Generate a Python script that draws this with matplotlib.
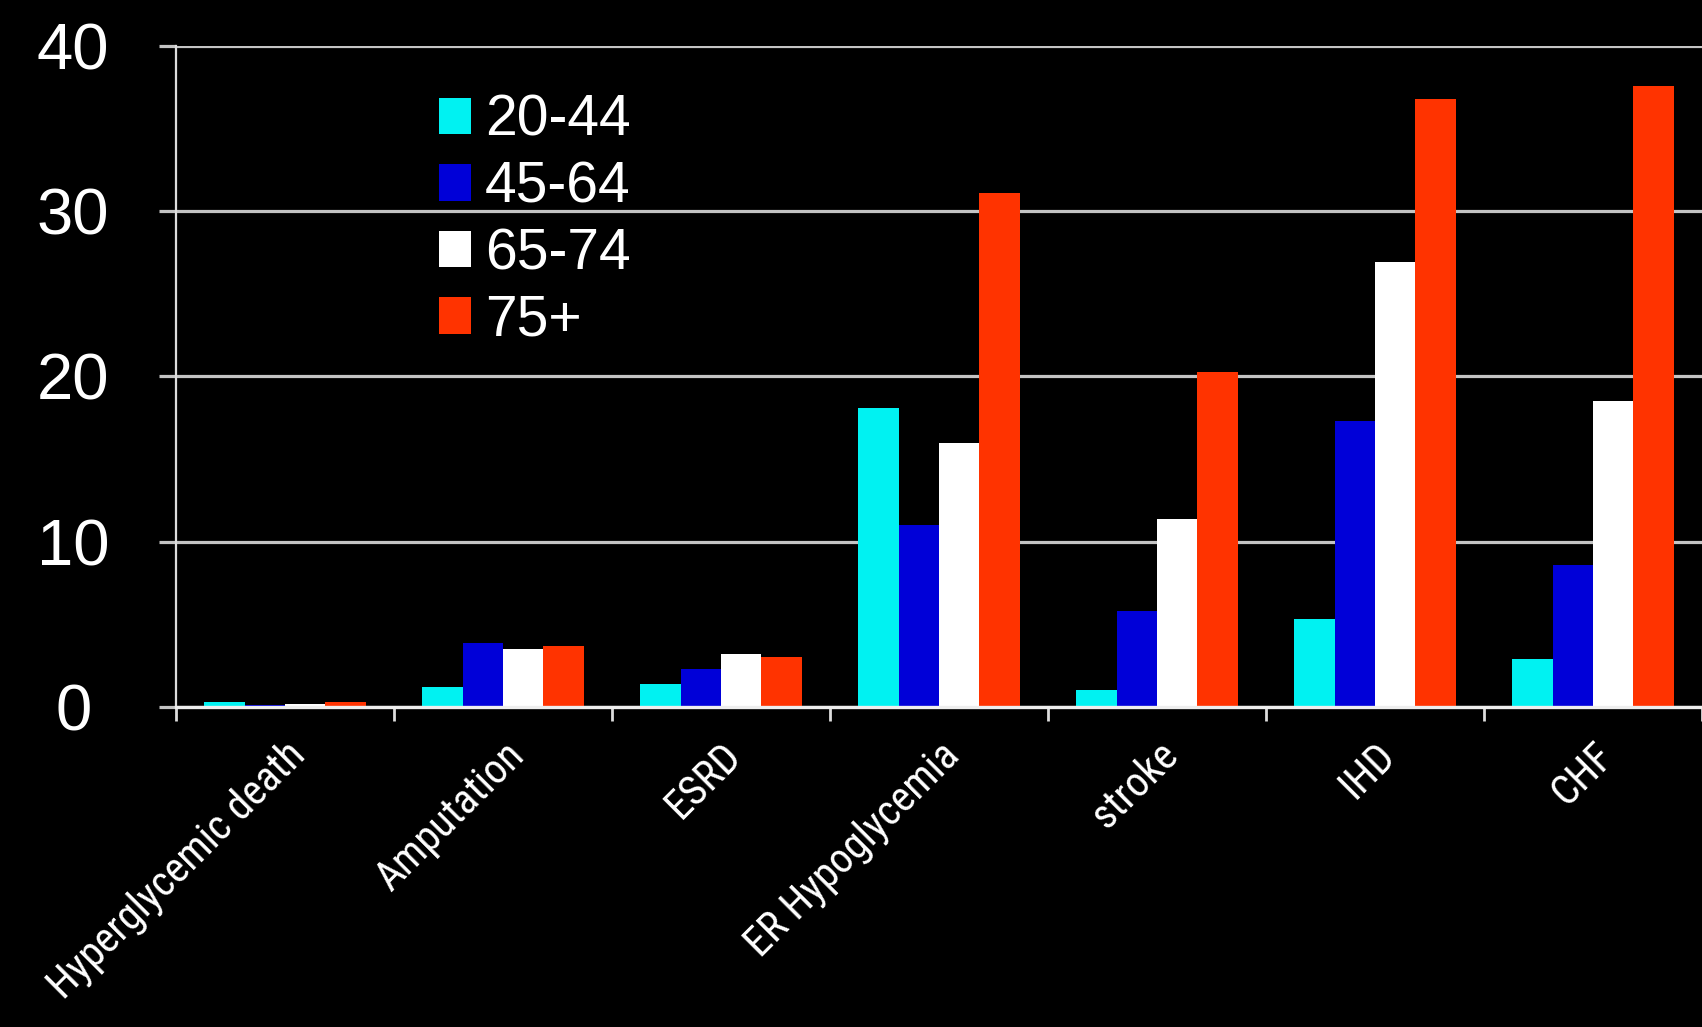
"""
Tasa de complicaciones por grupo de edad (barras agrupadas, fondo negro).
Genera out.png.
"""
import matplotlib
matplotlib.use("Agg")
import matplotlib.pyplot as plt
import numpy as np

# ---------------- datos ----------------
categories = ["Hyperglycemic death", "Amputation", "ESRD", "ER Hypoglycemia",
              "stroke", "IHD", "CHF"]
age_groups = ["20-44", "45-64", "65-74", "75+"]
age_20_44 = [0.3, 1.2, 1.4, 18.1, 1.0, 5.3, 2.9]
age_45_64 = [0.15, 3.9, 2.3, 11.0, 5.8, 17.3, 8.6]
age_65_74 = [0.2, 3.5, 3.2, 16.0, 11.4, 26.9, 18.5]
age_75_up = [0.3, 3.7, 3.0, 31.1, 20.3, 36.8, 37.6]
y_ticks = [0, 10, 20, 30, 40]

colors = ["#00f2f2", "#0000d8", "#ffffff", "#ff3300"]
GRID = "#c4c4c4"
FONT = ["Liberation Sans", "DejaVu Sans"]
NARROW = ["Roboto Condensed", "Liberation Sans", "DejaVu Sans"]


def main() -> None:
    fig = plt.figure(figsize=(17.02, 10.27), dpi=100, facecolor="black")
    ax = fig.add_axes([0.1034, 0.3116, 0.8966, 0.6436], facecolor="black")

    x = np.arange(len(categories))
    width = 0.185
    series = [age_20_44, age_45_64, age_65_74, age_75_up]
    for i, (vals, c, lab) in enumerate(zip(series, colors, age_groups)):
        ax.bar(x + (i - 1.5) * width, vals, width, color=c, label=lab,
               linewidth=0, zorder=3)

    ax.set_xlim(-0.5, len(categories) - 0.5)
    ax.set_ylim(0, 40)

    # rejilla horizontal gris detras de las barras
    ax.set_axisbelow(True)
    ax.yaxis.grid(True, color=GRID, linewidth=2.3)
    ax.set_yticks(y_ticks)
    ax.set_yticklabels([str(v) for v in y_ticks], family=FONT, fontsize=47,
                       color="white")
    for lbl in ax.get_yticklabels():
        lbl.set_horizontalalignment("center")
    ax.tick_params(axis="y", length=12, width=2.3, color=GRID, pad=62)

    # etiquetas de categoria centradas, marcas en los limites de grupo
    ax.set_xticks(x)
    ax.set_xticklabels(categories, family=NARROW, fontsize=30, color="white",
                       rotation=45, ha="right", va="top",
                       rotation_mode="anchor")
    ax.tick_params(axis="x", which="major", length=0, pad=20)
    ax.set_xticks(np.arange(-0.5, len(categories)), minor=True)
    ax.tick_params(axis="x", which="minor", length=10, width=2, color="#dddddd",
                   direction="out")

    for side in ("top", "right"):
        ax.spines[side].set_visible(False)
    ax.spines["left"].set_color("#dddddd")
    ax.spines["left"].set_linewidth(1.6)
    ax.spines["bottom"].set_color("#eeeeee")
    ax.spines["bottom"].set_linewidth(2.4)
    ax.spines["bottom"].set_zorder(4)

    leg = ax.legend(loc="upper left", bbox_to_anchor=(439 / 1702, 1 - 94 / 1027),
                    bbox_transform=fig.transFigure, frameon=False,
                    prop={"family": FONT, "size": 41}, labelcolor="white",
                    handlelength=0.56, handleheight=0.6, handletextpad=0.25,
                    labelspacing=0.22, borderpad=0, borderaxespad=0)
    for h in leg.legend_handles:
        h.set_linewidth(0)

    fig.savefig("out.png", dpi=100, facecolor="black")
    plt.close(fig)


if __name__ == "__main__":
    main()
